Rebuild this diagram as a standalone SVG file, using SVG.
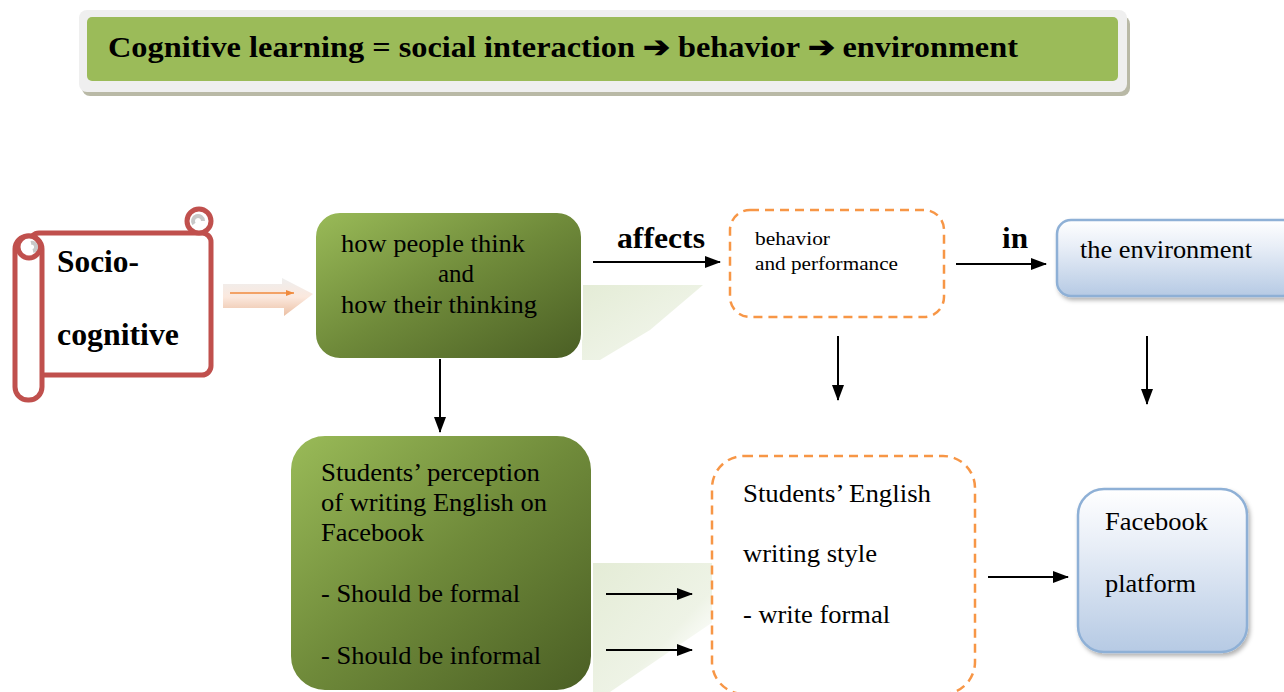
<svg xmlns="http://www.w3.org/2000/svg" width="1284" height="692" viewBox="0 0 1284 692">
<style>
  .t { fill: #000; }
  .conn line { stroke: #000; stroke-width: 2; }
  .dash { fill: #fff; stroke: #f79646; stroke-width: 2.5; stroke-dasharray: 9 6; }
  .green { fill: url(#gGreen); stroke: #fff; stroke-width: 2; }
  .blue { fill: url(#gBlue); stroke: #8eb0d6; stroke-width: 2.5; filter: url(#sh); }
  .scroll { fill: #fff; stroke: #c0504d; stroke-width: 5; }
</style>
<defs>
  <linearGradient id="gGreen" x1="0" y1="0" x2="1" y2="1">
    <stop offset="0" stop-color="#9abb58"/>
    <stop offset="0.5" stop-color="#6f8a3a"/>
    <stop offset="1" stop-color="#4a5e24"/>
  </linearGradient>
  <linearGradient id="gBlue" x1="0" y1="0" x2="0" y2="1">
    <stop offset="0" stop-color="#ffffff"/>
    <stop offset="0.35" stop-color="#e8eef7"/>
    <stop offset="1" stop-color="#b6cae4"/>
  </linearGradient>
  <linearGradient id="gPeach" x1="0" y1="0" x2="0" y2="1">
    <stop offset="0" stop-color="#ececec"/>
    <stop offset="0.5" stop-color="#fbe6da"/>
    <stop offset="1" stop-color="#e9b99a"/>
  </linearGradient>
  <linearGradient id="gPale" x1="0" y1="0" x2="1" y2="1">
    <stop offset="0" stop-color="#e4ecd6"/>
    <stop offset="0.6" stop-color="#eef3e6"/>
    <stop offset="1" stop-color="#ffffff" stop-opacity="0"/>
  </linearGradient>
  <filter id="sh" x="-10%" y="-10%" width="130%" height="130%">
    <feDropShadow dx="2" dy="3" stdDeviation="2" flood-color="#000" flood-opacity="0.3"/>
  </filter>
  <marker id="ah" markerWidth="16" markerHeight="12" refX="15" refY="6" orient="auto" markerUnits="userSpaceOnUse">
    <path d="M0,0 L16,6 L0,12 Z" fill="#000"/>
  </marker>
  <marker id="ahO" markerWidth="8" markerHeight="6" refX="8" refY="3" orient="auto" markerUnits="userSpaceOnUse">
    <path d="M0,0 L8,3 L0,6 Z" fill="#f08a3c"/>
  </marker>
</defs>

<g font-family="'Liberation Serif', 'Times New Roman', serif">
<!-- header -->
<g id="header">
  <rect x="82" y="16" width="1048" height="80" rx="8" fill="#a8a890" opacity="0.8"/>
  <rect x="79" y="10" width="1048" height="82" rx="8" fill="#efefef"/>
  <rect x="87" y="17" width="1031" height="64" rx="5" fill="#9bbb59"/>
  <text class="t" font-weight="bold" x="108" y="57" font-size="29" textLength="910" lengthAdjust="spacingAndGlyphs">Cognitive learning = social interaction ➔ behavior ➔ environment</text>
</g>

<!-- faint background shapes -->
<g id="bg">
  <polygon points="582,285 703,285 650,330 600,360 582,360" fill="url(#gPale)"/>
  <polygon points="593,563 713,563 713,622 610,692 593,692" fill="url(#gPale)"/>
</g>

<!-- scroll -->
<g id="socio">
  <rect class="scroll" x="30" y="233" width="181" height="142" rx="9"/>
  <circle class="scroll" cx="199" cy="221" r="12"/>
  <path d="M194,224 a5,5 0 1 1 9,-3" fill="none" stroke="#c8c8c8" stroke-width="4"/>
  <rect class="scroll" x="15" y="236" width="27" height="164" rx="13"/>
  <circle class="scroll" cx="29" cy="247" r="11"/>
  <path d="M31,243 a4,4 0 0 1 2,8" fill="none" stroke="#c8c8c8" stroke-width="4"/>
  <text class="t" font-weight="bold" x="57" y="272" font-size="31" textLength="82" lengthAdjust="spacingAndGlyphs">Socio-</text>
  <text class="t" font-weight="bold" x="57" y="345" font-size="31" textLength="122" lengthAdjust="spacingAndGlyphs">cognitive</text>
</g>

<!-- small block arrow -->
<g id="blockarrow">
  <polygon points="223,284 282,284 282,278 313,294 284,316 284,308 223,308" fill="url(#gPeach)" opacity="0.9"/>
  <line x1="230" y1="293" x2="294" y2="293" stroke="#f08a3c" stroke-width="1.5" marker-end="url(#ahO)"/>
</g>

<!-- box 1 -->
<g id="think" font-size="25">
  <rect class="green" x="315" y="212" width="267" height="147" rx="25"/>
  <text class="t" x="341" y="252" textLength="184" lengthAdjust="spacingAndGlyphs">how people think</text>
  <text class="t" x="438" y="282" textLength="36" lengthAdjust="spacingAndGlyphs">and</text>
  <text class="t" x="341" y="313" textLength="196" lengthAdjust="spacingAndGlyphs">how their thinking</text>
</g>

<!-- box 2 -->
<g id="behavior" font-size="19">
  <rect class="dash" x="730" y="210" width="214" height="107" rx="20"/>
  <text class="t" x="755" y="245" textLength="75" lengthAdjust="spacingAndGlyphs">behavior</text>
  <text class="t" x="755" y="270" textLength="143" lengthAdjust="spacingAndGlyphs">and performance</text>
</g>

<!-- box 3 -->
<g id="environment" font-size="25">
  <rect class="blue" x="1057" y="220" width="240" height="76" rx="14"/>
  <text class="t" x="1080" y="258" textLength="172" lengthAdjust="spacingAndGlyphs">the environment</text>
</g>

<!-- box 4 -->
<g id="perception" font-size="25">
  <rect class="green" x="290" y="435" width="302" height="256" rx="35"/>
  <text class="t" x="321" y="481" textLength="219" lengthAdjust="spacingAndGlyphs">Students’ perception</text>
  <text class="t" x="321" y="511" textLength="226" lengthAdjust="spacingAndGlyphs">of writing English on</text>
  <text class="t" x="321" y="541" textLength="103" lengthAdjust="spacingAndGlyphs">Facebook</text>
  <text class="t" x="321" y="602" textLength="199" lengthAdjust="spacingAndGlyphs">- Should be formal</text>
  <text class="t" x="321" y="664" textLength="220" lengthAdjust="spacingAndGlyphs">- Should be informal</text>
</g>

<!-- box 5 -->
<g id="style" font-size="25">
  <rect class="dash" x="712" y="456" width="263" height="238" rx="32"/>
  <text class="t" x="743" y="502" textLength="188" lengthAdjust="spacingAndGlyphs">Students’ English</text>
  <text class="t" x="743" y="562" textLength="134" lengthAdjust="spacingAndGlyphs">writing style</text>
  <text class="t" x="743" y="623" textLength="147" lengthAdjust="spacingAndGlyphs">- write formal</text>
</g>

<!-- box 6 -->
<g id="facebook" font-size="25">
  <rect class="blue" x="1078" y="489" width="169" height="163" rx="26"/>
  <text class="t" x="1105" y="530" textLength="103" lengthAdjust="spacingAndGlyphs">Facebook</text>
  <text class="t" x="1105" y="592" textLength="91" lengthAdjust="spacingAndGlyphs">platform</text>
</g>

<!-- connectors -->
<g id="connectors" class="conn">
  <line x1="593" y1="262" x2="720" y2="262" marker-end="url(#ah)"/>
  <line x1="956" y1="264" x2="1046" y2="264" marker-end="url(#ah)"/>
  <line x1="838" y1="336" x2="838" y2="400" marker-end="url(#ah)"/>
  <line x1="1147" y1="336" x2="1147" y2="404" marker-end="url(#ah)"/>
  <line x1="440" y1="359" x2="440" y2="432" marker-end="url(#ah)"/>
  <line x1="606" y1="594" x2="692" y2="594" marker-end="url(#ah)"/>
  <line x1="606" y1="650" x2="692" y2="650" marker-end="url(#ah)"/>
  <line x1="988" y1="577" x2="1068" y2="577" marker-end="url(#ah)"/>
</g>
<g id="labels" font-size="30" font-weight="bold">
  <text class="t" x="617" y="248" textLength="88" lengthAdjust="spacingAndGlyphs">affects</text>
  <text class="t" x="1002" y="248" textLength="26" lengthAdjust="spacingAndGlyphs">in</text>
</g>
</g>
</svg>
